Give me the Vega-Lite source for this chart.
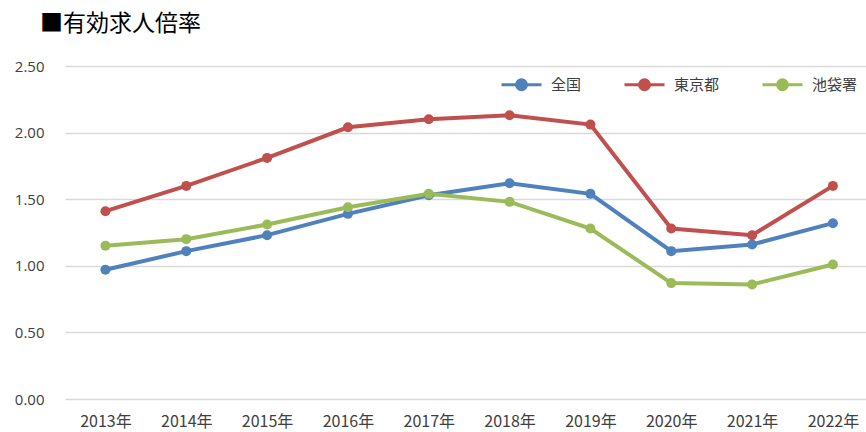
{
  "$schema": "https://vega.github.io/schema/vega-lite/v6.json",
  "width": 801,
  "height": 333,
  "autosize": "none",
  "padding": {"left": 65, "top": 66, "right": 0, "bottom": 33},
  "background": "white",
  "title": {
    "text": "■有効求人倍率",
    "anchor": "start",
    "frame": "group",
    "dx": -25,
    "offset": 5,
    "baseline": "alphabetic",
    "font": "Noto Sans CJK JP",
    "fontSize": 23,
    "fontWeight": "normal",
    "color": "#000000"
  },
  "config": {
    "view": {"stroke": null},
    "font": "Noto Sans CJK JP"
  },
  "data": {
    "values": [
      {"year": "2013", "series": "全国", "value": 0.97},
      {"year": "2014", "series": "全国", "value": 1.11},
      {"year": "2015", "series": "全国", "value": 1.23},
      {"year": "2016", "series": "全国", "value": 1.39},
      {"year": "2017", "series": "全国", "value": 1.53},
      {"year": "2018", "series": "全国", "value": 1.62},
      {"year": "2019", "series": "全国", "value": 1.54},
      {"year": "2020", "series": "全国", "value": 1.11},
      {"year": "2021", "series": "全国", "value": 1.16},
      {"year": "2022", "series": "全国", "value": 1.32},
      {"year": "2013", "series": "東京都", "value": 1.41},
      {"year": "2014", "series": "東京都", "value": 1.60},
      {"year": "2015", "series": "東京都", "value": 1.81},
      {"year": "2016", "series": "東京都", "value": 2.04},
      {"year": "2017", "series": "東京都", "value": 2.10},
      {"year": "2018", "series": "東京都", "value": 2.13},
      {"year": "2019", "series": "東京都", "value": 2.06},
      {"year": "2020", "series": "東京都", "value": 1.28},
      {"year": "2021", "series": "東京都", "value": 1.23},
      {"year": "2022", "series": "東京都", "value": 1.60},
      {"year": "2013", "series": "池袋署", "value": 1.15},
      {"year": "2014", "series": "池袋署", "value": 1.20},
      {"year": "2015", "series": "池袋署", "value": 1.31},
      {"year": "2016", "series": "池袋署", "value": 1.44},
      {"year": "2017", "series": "池袋署", "value": 1.54},
      {"year": "2018", "series": "池袋署", "value": 1.48},
      {"year": "2019", "series": "池袋署", "value": 1.28},
      {"year": "2020", "series": "池袋署", "value": 0.87},
      {"year": "2021", "series": "池袋署", "value": 0.86},
      {"year": "2022", "series": "池袋署", "value": 1.01}
    ]
  },
  "encoding": {
    "x": {
      "field": "year",
      "type": "ordinal",
      "sort": null,
      "scale": {"type": "point", "padding": 0.455, "align": 0.55},
      "axis": {
        "title": null,
        "labelAngle": 0,
        "labelExpr": "datum.value + '年'",
        "labelFont": "Noto Sans CJK JP",
        "labelFontSize": 16,
        "labelColor": "#404040",
        "labelPadding": 14,
        "ticks": false,
        "domain": false,
        "grid": false
      }
    },
    "y": {
      "field": "value",
      "type": "quantitative",
      "scale": {"domain": [0, 2.5], "nice": false, "zero": true},
      "axis": {
        "title": null,
        "values": [0, 0.5, 1, 1.5, 2, 2.5],
        "format": ".2f",
        "labelFont": "Open Sans",
        "labelFontSize": 15,
        "labelColor": "#404040",
        "labelPadding": 21,
        "ticks": false,
        "domain": false,
        "grid": true,
        "gridColor": "#d9d9d9",
        "gridWidth": 1.5
      }
    },
    "color": {
      "field": "series",
      "type": "nominal",
      "scale": {
        "domain": ["全国", "東京都", "池袋署"],
        "range": ["#4F81BD", "#C0504D", "#9BBB59"]
      },
      "legend": {
        "title": null,
        "orient": "none",
        "direction": "horizontal",
        "legendX": 435,
        "legendY": -3,
        "symbolType": "M-1,0L1,0M-0.25,0A0.25,0.25,0,1,1,0.25,0A0.25,0.25,0,1,1,-0.25,0Z",
        "symbolSize": 1600,
        "symbolStrokeWidth": 3,
        "labelFont": "Noto Sans CJK JP",
        "labelFontSize": 15,
        "labelColor": "#404040",
        "labelOffset": 8,
        "columnPadding": 36,
        "encode": {
          "symbols": {
            "update": {
              "fill": {"scale": "color", "field": "value"},
              "fillOpacity": {"value": 1}
            }
          }
        }
      }
    }
  },
  "layer": [
    {"mark": {"type": "line", "strokeWidth": 4}},
    {"mark": {"type": "point", "filled": true, "size": 100, "opacity": 1}}
  ]
}
